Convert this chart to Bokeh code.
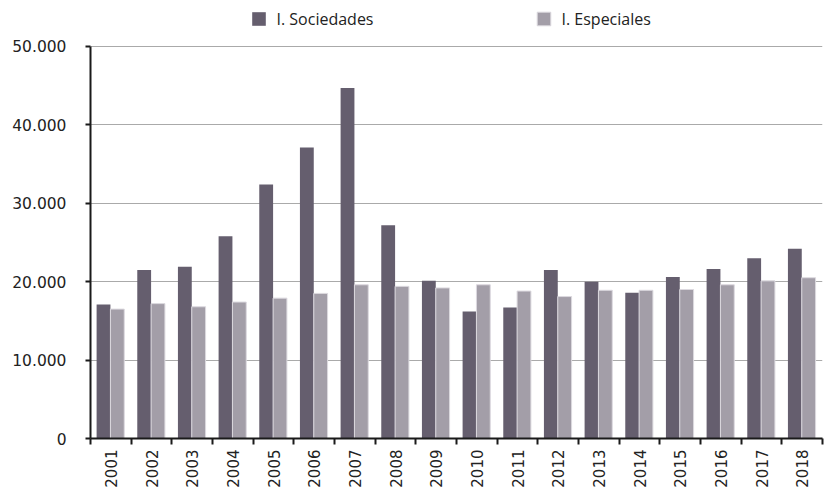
import numpy as np
from bokeh.plotting import figure
from bokeh.models import (Range1d, FixedTicker, Legend, LegendItem,
                          ColumnDataSource, CustomJSTickFormatter)
from bokeh.embed import file_html
from bokeh.resources import INLINE
from math import pi

years = ["2001", "2002", "2003", "2004", "2005", "2006", "2007", "2008", "2009",
         "2010", "2011", "2012", "2013", "2014", "2015", "2016", "2017", "2018"]
sociedades = [17100, 21500, 21900, 25800, 32400, 37100, 44700, 27200, 20100,
              16200, 16700, 21500, 20000, 18600, 20600, 21600, 23000, 24200]
especiales = [16500, 17200, 16800, 17400, 17900, 18500, 19600, 19400, 19200,
              19600, 18800, 18100, 18900, 18900, 19000, 19600, 20100, 20500]
y_ticks = [0, 10000, 20000, 30000, 40000, 50000]
y_tick_labels = ["0", "10.000", "20.000", "30.000", "40.000", "50.000"]
series_names = ["I. Sociedades", "I. Especiales"]

C_S = "#655e6e"
C_E = "#a39ea8"

n = len(years)
idx = np.arange(n)

FRAME_H = 439
Y_MAX = 50000
PLOT_TOP_PX = 46  # where the 50.000 line sits
y_end = Y_MAX * FRAME_H / (FRAME_H - PLOT_TOP_PX)  # room for the legend

p = figure(width=824, height=490, output_backend="svg", toolbar_location=None,
           x_range=Range1d(0, n), y_range=Range1d(0, y_end),
           min_border_left=90, min_border_right=2, min_border_top=0,
           min_border_bottom=51)
p.outline_line_color = None
p.background_fill_color = "white"

src = ColumnDataSource(dict(xs=idx + 0.32, xe=idx + 0.66,
                            s=sociedades, e=especiales))
rs = p.vbar(x="xs", top="s", width=0.34, source=src, fill_color=C_S,
            line_color=None)
re_ = p.vbar(x="xe", top="e", width=0.34, source=src, fill_color=C_E,
             line_color="#dcd9df", line_width=1)

# y axis
p.yaxis.ticker = FixedTicker(ticks=y_ticks)
p.yaxis.bounds = (0, Y_MAX)
p.yaxis.major_label_overrides = {t: l for t, l in zip(y_ticks, y_tick_labels)}
p.yaxis.axis_line_color = "#1a1a1a"
p.yaxis.axis_line_width = 2
p.yaxis.major_tick_line_color = "#1a1a1a"
p.yaxis.major_tick_line_width = 2
p.yaxis.major_tick_out = 5
p.yaxis.major_tick_in = 0
p.yaxis.minor_tick_line_color = None
p.yaxis.major_label_standoff = 19
p.yaxis.major_label_text_font = "DejaVu Sans"
p.yaxis.major_label_text_font_size = "15.5px"
p.yaxis.major_label_text_color = "#222222"

# x axis: labels at category centres, tick marks at category boundaries
p.xaxis.ticker = FixedTicker(ticks=list(idx + 0.5), minor_ticks=list(range(n + 1)))
p.xaxis.formatter = CustomJSTickFormatter(
    args=dict(years=years),
    code="const i = Math.floor(tick); return (i >= 0 && i < years.length) ? years[i] : '';")
p.xaxis.major_label_orientation = pi / 2
p.xaxis.axis_line_color = "#1a1a1a"
p.xaxis.axis_line_width = 2
p.xaxis.major_tick_line_color = None
p.xaxis.major_tick_out = 0
p.xaxis.major_tick_in = 0
p.xaxis.minor_tick_line_color = "#1a1a1a"
p.xaxis.minor_tick_line_width = 2
p.xaxis.minor_tick_out = 6
p.xaxis.minor_tick_in = 0
p.xaxis.major_label_standoff = 5
p.xaxis.major_label_text_font = "DejaVu Sans"
p.xaxis.major_label_text_font_size = "15px"
p.xaxis.major_label_text_color = "#222222"

p.xgrid.grid_line_color = None
p.ygrid.ticker = FixedTicker(ticks=y_ticks[1:])
p.ygrid.grid_line_color = "#aaaaaa"
p.ygrid.grid_line_width = 1

# legends
for r, name, lx in [(rs, series_names[0], 159.5), (re_, series_names[1], 444.5)]:
    leg = Legend(items=[LegendItem(label=name, renderers=[r])],
                 location=(lx, 408.5), orientation="horizontal",
                 glyph_width=17, glyph_height=17, label_height=17,
                 label_standoff=10, padding=0, margin=0, spacing=0,
                 border_line_color=None, background_fill_alpha=0,
                 label_text_font="Open Sans", label_text_font_size="16px",
                 label_text_color="#222222")
    p.add_layout(leg)

open("out.html", "w").write(file_html(p, INLINE))
